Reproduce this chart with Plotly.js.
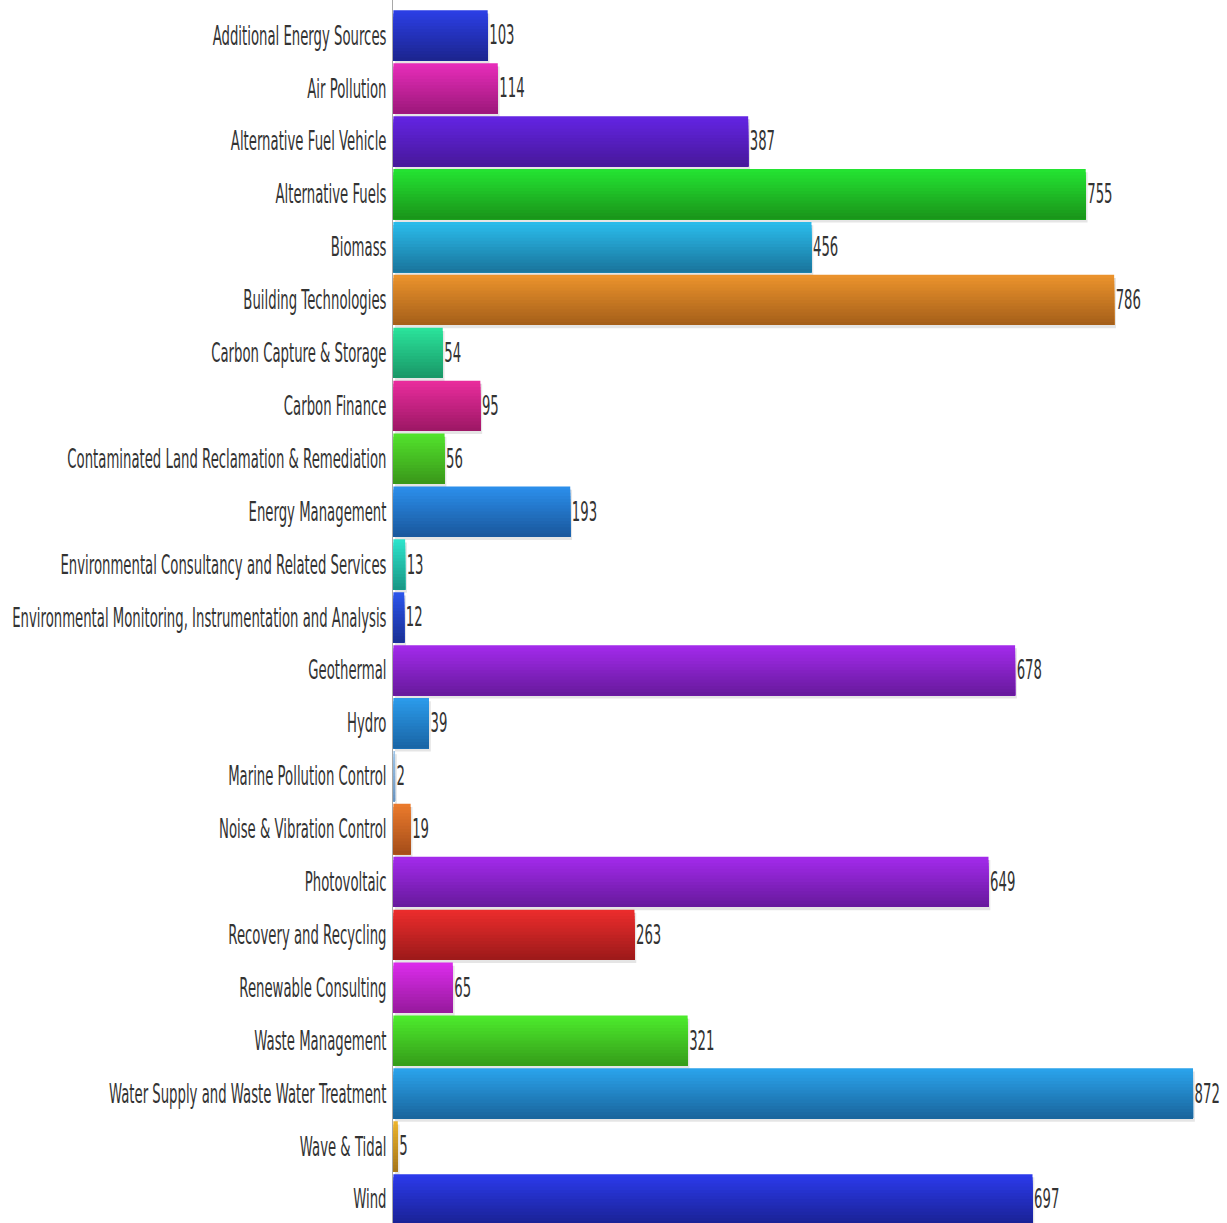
<!DOCTYPE html>
<html>
<head>
<meta charset="utf-8">
<script src="https://cdn.plot.ly/plotly-3.0.1.min.js"></script>
<style>
  html, body { margin: 0; padding: 0; background: #ffffff; overflow: hidden; }
  #wrap { width: 1227px; height: 1223px; overflow: hidden; }
  #chart { transform-origin: 0 0; }
</style>
</head>
<body>
<div id="wrap"><div id="chart"></div></div>
<script>
// ---- data ----
const categories = [
  "Additional Energy Sources",
  "Air Pollution",
  "Alternative Fuel Vehicle",
  "Alternative Fuels",
  "Biomass",
  "Building Technologies",
  "Carbon Capture & Storage",
  "Carbon Finance",
  "Contaminated Land Reclamation & Remediation",
  "Energy Management",
  "Environmental Consultancy and Related Services",
  "Environmental Monitoring, Instrumentation and Analysis",
  "Geothermal",
  "Hydro",
  "Marine Pollution Control",
  "Noise & Vibration Control",
  "Photovoltaic",
  "Recovery and Recycling",
  "Renewable Consulting",
  "Waste Management",
  "Water Supply and Waste Water Treatment",
  "Wave & Tidal",
  "Wind"
];
const values = [103, 114, 387, 755, 456, 786, 54, 95, 56, 193, 13, 12, 678, 39, 2, 19, 649, 263, 65, 321, 872, 5, 697];

// ---- styles ----
const topColors = [
  "#2b3ee4", "#e62db9", "#6324e2", "#24e232", "#2abbea", "#ea922c", "#2ae29a", "#e82c9c",
  "#52e22c", "#2b8eea", "#2ce2ca", "#2b54ea", "#a22aea", "#2b9aea", "#9cc4e8", "#ea7a2c",
  "#a22aea", "#ea2c2c", "#da2cea", "#4cea2c", "#2aa2ea", "#eab22c", "#2b3aea"
];
const bottomColors = [
  "#1c2590", "#9e187c", "#48189c", "#1a961a", "#1a769e", "#a6601a", "#1a9868", "#9e1866",
  "#3a981a", "#1a589e", "#1a9886", "#1a3096", "#681a9e", "#1a66a6", "#6a94c0", "#a64e1a",
  "#681a9e", "#9e1a1a", "#981a9e", "#369e1a", "#1a669e", "#a6761a", "#1a2296"
];

const S = 0.51;             // horizontal squeeze of the whole drawing
const W = 1227 / S, H = 1223;
const FS = 26;
const barW = 0.95;
const N = 16;

function hex2rgb(h) { return [1,3,5].map(i => parseInt(h.substr(i,2),16)); }
function mix(a, b, t) {
  const A = hex2rgb(a), B = hex2rgb(b);
  return "rgb(" + A.map((v,i) => Math.round(v + (B[i]-v)*t)).join(",") + ")";
}

const traces = [];
// soft shadow
traces.push({
  type: "bar", orientation: "h", y: categories, x: values, base: 2,
  width: barW, offset: -barW/2 + 0.06,
  marker: { color: "rgba(0,0,0,0.10)", line: { width: 0 } },
  hoverinfo: "skip", showlegend: false
});
// gradient: each slice runs from its start to the bar bottom, later ones cover earlier
for (let k = 0; k < N; k++) {
  const t = k / (N - 1);
  const start = -barW/2 + k * barW / N;
  traces.push({
    type: "bar", orientation: "h", y: categories, x: values,
    width: barW/2 - start, offset: start,
    marker: { color: categories.map((c, i) => mix(topColors[i], bottomColors[i], t)), line: { width: 0 } },
    hoverinfo: "skip", showlegend: false
  });
}
// value labels
traces.push({
  type: "bar", orientation: "h", y: categories, x: values,
  width: barW, offset: -barW/2,
  marker: { color: "rgba(0,0,0,0)", line: { width: 0 } },
  text: values.map(String), textposition: "outside", constraintext: "none",
  cliponaxis: false,
  textfont: { family: "DejaVu Sans", size: FS, color: "#333333" },
  showlegend: false
});

const layout = {
  width: W, height: H,
  margin: { l: 393 / S, r: 0, t: 0, b: 0, pad: 0 },
  paper_bgcolor: "#ffffff", plot_bgcolor: "#ffffff",
  barmode: "overlay",
  showlegend: false,
  font: { family: "DejaVu Sans", size: FS, color: "#333333" },
  xaxis: { range: [0, 909.1], visible: false, showgrid: false, zeroline: false, fixedrange: true },
  yaxis: {
    type: "category", categoryorder: "array", categoryarray: categories,
    range: [22.448, -0.671], autorange: false,
    showline: true, linecolor: "#a8a8a8", linewidth: 3,
    showgrid: false, zeroline: false, ticks: "", ticklabelstandoff: 5,
    tickfont: { family: "DejaVu Sans", size: FS, color: "#333333" },
    fixedrange: true
  }
};

document.getElementById("chart").style.transform = "scaleX(" + S + ")";
Plotly.newPlot("chart", traces, layout, { displayModeBar: false, staticPlot: true });
</script>
</body>
</html>
